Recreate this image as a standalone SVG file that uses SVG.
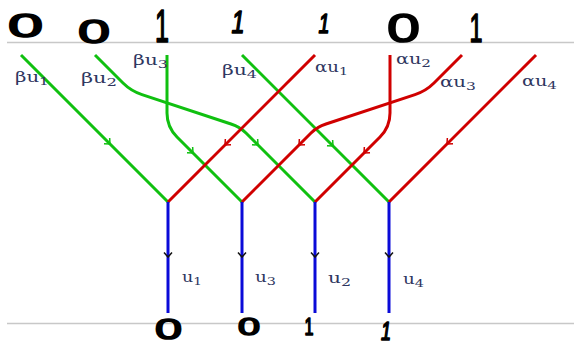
<svg xmlns="http://www.w3.org/2000/svg" xmlns:xlink="http://www.w3.org/1999/xlink" width="574" height="344" viewBox="0 0 574 344">
<style>
.rule{stroke:#c8c8c8;stroke-width:1.5;fill:none}
.g{stroke:#10c010;stroke-width:3;fill:none;stroke-linejoin:round}
.r{stroke:#d00000;stroke-width:3;fill:none;stroke-linejoin:round}
.b{stroke:#0a0ad8;stroke-width:3;fill:none}
.ag{stroke:#10c010;stroke-width:1.5;fill:none}
.ar{stroke:#d00000;stroke-width:1.5;fill:none}
.ab{stroke:#111;stroke-width:1.5;fill:none}
.lab{font-family:"DejaVu Serif","Liberation Serif",serif;font-size:14px;fill:#2e3660}
.sub{font-size:11px}
.hw{font-family:"Liberation Sans",Arial,sans-serif;fill:#000;stroke:#000;stroke-width:1.6;stroke-linejoin:round}
</style>
<defs>
<path id="chev" d="M-4.5,-4 L0,0 L-4.5,4"/>
</defs>
<rect width="574" height="344" fill="#fff"/>
<g id="rules">
<line class="rule" x1="7" y1="42.5" x2="574" y2="42.5"/>
<line class="rule" x1="7" y1="323.5" x2="574" y2="323.5"/>
</g>
<g id="connectors">
<path class="g" d="M21,55 L168,202"/>
<path class="g" d="M95,55 L123,83 Q131,91 142,94.6 L231,124 Q240,127 246,133 L315,202"/>
<path class="g" d="M167,55 L167,113 Q167,127 177,137 L242,202"/>
<path class="g" d="M242,55 L389,202"/>
<path class="r" d="M315,55 L168,202"/>
<path class="r" d="M390,55 L390,113 Q390,127 380,137 L315,202"/>
<path class="r" d="M462,55 L434,83 Q426,91 415,94.6 L326,124 Q317,127 311,133 L242,202"/>
<path class="r" d="M536,55 L389,202"/>
<path class="b" d="M168,202 L168,313"/>
<path class="b" d="M242,202 L242,313"/>
<path class="b" d="M315,202 L315,313"/>
<path class="b" d="M389,202 L389,313"/>
<use href="#chev" class="ag" transform="translate(110,144) rotate(45)"/>
<use href="#chev" class="ag" transform="translate(193,153) rotate(45)"/>
<use href="#chev" class="ag" transform="translate(258,145) rotate(45)"/>
<use href="#chev" class="ag" transform="translate(333,146) rotate(45)"/>
<use href="#chev" class="ar" transform="translate(225,145) rotate(135)"/>
<use href="#chev" class="ar" transform="translate(299,145) rotate(135)"/>
<use href="#chev" class="ar" transform="translate(364,153) rotate(135)"/>
<use href="#chev" class="ar" transform="translate(447,144) rotate(135)"/>
<use href="#chev" class="ab" transform="translate(168,257) rotate(90)"/>
<use href="#chev" class="ab" transform="translate(242,257) rotate(90)"/>
<use href="#chev" class="ab" transform="translate(315,257) rotate(90)"/>
<use href="#chev" class="ab" transform="translate(389,257) rotate(90)"/>
</g>
<g id="labels">
<g id="n-bu1"><text class="lab" x="15" y="82" textLength="34" lengthAdjust="spacingAndGlyphs">βu<tspan class="sub" dy="3">1</tspan></text></g>
<g id="n-bu2"><text class="lab" x="81" y="83" textLength="36" lengthAdjust="spacingAndGlyphs">βu<tspan class="sub" dy="3">2</tspan></text></g>
<g id="n-bu3"><text class="lab" x="133" y="65" textLength="35" lengthAdjust="spacingAndGlyphs">βu<tspan class="sub" dy="3">3</tspan></text></g>
<g id="n-bu4"><text class="lab" x="222" y="75" textLength="35" lengthAdjust="spacingAndGlyphs">βu<tspan class="sub" dy="3">4</tspan></text></g>
<g id="n-au1"><text class="lab" x="315" y="72" textLength="33" lengthAdjust="spacingAndGlyphs">αu<tspan class="sub" dy="3">1</tspan></text></g>
<g id="n-au2"><text class="lab" x="396" y="64" textLength="35" lengthAdjust="spacingAndGlyphs">αu<tspan class="sub" dy="3">2</tspan></text></g>
<g id="n-au3"><text class="lab" x="440" y="87" textLength="36" lengthAdjust="spacingAndGlyphs">αu<tspan class="sub" dy="3">3</tspan></text></g>
<g id="n-au4"><text class="lab" x="522" y="86" textLength="35" lengthAdjust="spacingAndGlyphs">αu<tspan class="sub" dy="3">4</tspan></text></g>
<g id="n-u1"><text class="lab" x="182" y="282" textLength="20" lengthAdjust="spacingAndGlyphs">u<tspan class="sub" dy="3">1</tspan></text></g>
<g id="n-u3"><text class="lab" x="255" y="282" textLength="21" lengthAdjust="spacingAndGlyphs">u<tspan class="sub" dy="3">3</tspan></text></g>
<g id="n-u2"><text class="lab" x="328" y="283" textLength="23" lengthAdjust="spacingAndGlyphs">u<tspan class="sub" dy="3">2</tspan></text></g>
<g id="n-u4"><text class="lab" x="403" y="284" textLength="21" lengthAdjust="spacingAndGlyphs">u<tspan class="sub" dy="3">4</tspan></text></g>
</g>
<g id="digits">
<g id="d-top1"><text class="hw" x="8" y="37" font-size="33" textLength="35" lengthAdjust="spacingAndGlyphs">0</text></g>
<g id="d-top2"><text class="hw" x="78" y="43" font-size="33" textLength="32" lengthAdjust="spacingAndGlyphs">0</text></g>
<g id="d-top3"><text class="hw" x="162" y="42" font-size="46" text-anchor="middle" textLength="14" lengthAdjust="spacingAndGlyphs">1</text></g>
<g id="d-top4"><text class="hw" x="238" y="33" font-size="32" font-style="italic" text-anchor="middle" textLength="13" lengthAdjust="spacingAndGlyphs">1</text></g>
<g id="d-top5"><text class="hw" x="324" y="33" font-size="28" font-style="italic" text-anchor="middle" textLength="11" lengthAdjust="spacingAndGlyphs">1</text></g>
<g id="d-top6"><text class="hw" x="387" y="42" font-size="41" textLength="33" lengthAdjust="spacingAndGlyphs">0</text></g>
<g id="d-top7"><text class="hw" x="476" y="42" font-size="40" text-anchor="middle" textLength="13" lengthAdjust="spacingAndGlyphs">1</text></g>
<g id="d-bot1"><text class="hw" x="155" y="339" font-size="29" textLength="27" lengthAdjust="spacingAndGlyphs">0</text></g>
<g id="d-bot2"><text class="hw" x="238" y="335" font-size="24" textLength="22" lengthAdjust="spacingAndGlyphs">0</text></g>
<g id="d-bot3"><text class="hw" x="309" y="335" font-size="23" text-anchor="middle" textLength="9" lengthAdjust="spacingAndGlyphs">1</text></g>
<g id="d-bot4"><text class="hw" x="386" y="340" font-size="25" font-style="italic" text-anchor="middle" textLength="10" lengthAdjust="spacingAndGlyphs">1</text></g>
</g>
</svg>
